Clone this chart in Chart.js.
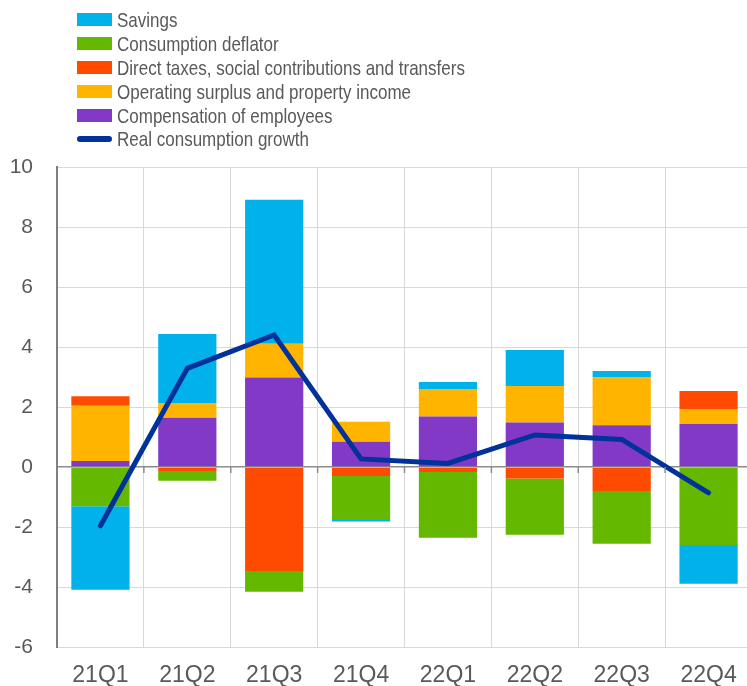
<!DOCTYPE html>
<html lang="en">
<head>
  <meta charset="UTF-8" />
  <title>Real consumption growth decomposition</title>
  <script src="https://cdn.jsdelivr.net/npm/chart.js"></script>
  <style>
    body {
      margin: 0;
      background: #fff;
      overflow: hidden;
      font-family: 'Liberation Sans', Arial, sans-serif;
    }
    .wrap {
      position: relative;
      width: 752px;
      height: 686px;
    }
    #legend {
      position: absolute;
      left: 77px;
      top: 8px;
      list-style: none;
      margin: 0;
      padding: 0;
    }
    #legend li {
      height: 23.9px;
      display: flex;
      align-items: center;
      color: #595959;
      font-size: 21px;
      white-space: nowrap;
    }
    #legend .txt {
      display: inline-block;
      transform: scaleX(0.81);
      transform-origin: left center;
    }
    #legend .box {
      width: 35px;
      height: 13px;
      margin-right: 5px;
      flex: none;
    }
    #legend .ln {
      width: 35px;
      height: 6px;
      border-radius: 3px;
      margin-right: 5px;
      flex: none;
    }
  </style>
</head>
<body>
  <div class="wrap">
    <canvas id="chart" width="752" height="686"></canvas>
    <ul id="legend"></ul>
  </div>

  <script>
    const quarters = ['21Q1', '21Q2', '21Q3', '21Q4', '22Q1', '22Q2', '22Q3', '22Q4'];

    const compensation = [0.2, 1.64, 2.98, 0.84, 1.68, 1.48, 1.39, 1.43];
    const operating    = [1.84, 0.49, 1.13, 0.67, 0.92, 1.22, 1.59, 0.5];
    const directTaxes  = [0.32, -0.13, -3.47, -0.3, -0.17, -0.38, -0.8, 0.6];
    const deflator     = [-1.31, -0.33, -0.69, -1.47, -2.19, -1.88, -1.76, -2.6];
    const savings      = [-2.78, 2.3, 4.8, -0.05, 0.23, 1.2, 0.22, -1.29];
    const realGrowth   = [-1.96, 3.29, 4.4, 0.27, 0.12, 1.07, 0.92, -0.86];

    const yTicks = [-6, -4, -2, 0, 2, 4, 6, 8, 10];

    const tickGrey = '#595959';

    function bar(label, data, color) {
      return { type: 'bar', label, data, backgroundColor: color, stack: 'bars', order: 1 };
    }

    const datasets = [
      bar('Compensation of employees', compensation, '#8139c6'),
      bar('Operating surplus and property income', operating, '#ffb400'),
      bar('Direct taxes, social contributions and transfers', directTaxes, '#ff4b00'),
      bar('Consumption deflator', deflator, '#65b800'),
      bar('Savings', savings, '#00b1ea'),
      {
        type: 'line',
        label: 'Real consumption growth',
        data: realGrowth,
        borderColor: '#003299',
        backgroundColor: '#003299',
        borderWidth: 5,
        borderCapStyle: 'round',
        borderJoinStyle: 'miter',
        pointRadius: 0,
        tension: 0,
        stack: 'line',
        order: 0
      }
    ];

    // small tick marks hanging from the zero line at each category boundary
    const zeroTicks = {
      id: 'zeroTicks',
      afterDatasetsDraw(c) {
        const x = c.scales.x, y = c.scales.y;
        const y0 = y.getPixelForValue(0);
        const g = c.ctx;
        g.save();
        g.strokeStyle = '#8c8c8c';
        g.lineWidth = 1.5;
        for (let i = 1; i < quarters.length; i++) {
          const px = (x.getPixelForTick(i - 1) + x.getPixelForTick(i)) / 2;
          g.beginPath();
          g.moveTo(px, y0);
          g.lineTo(px, y0 + 6);
          g.stroke();
        }
        g.restore();
      }
    };

    const ctx = document.getElementById('chart').getContext('2d');
    const chart = new Chart(ctx, {
      data: { labels: quarters, datasets },
      plugins: [zeroTicks],
      options: {
        responsive: false,
        animation: false,
        layout: { padding: { top: 167, right: 0, bottom: 0, left: 0 } },
        datasets: {
          bar: { categoryPercentage: 1, barPercentage: 0.67 }
        },
        plugins: {
          legend: { display: false },
          tooltip: { enabled: false }
        },
        scales: {
          x: {
            stacked: true,
            grid: { color: '#d9d9d9', lineWidth: 1, offset: true, drawTicks: false },
            border: { color: '#d9d9d9', width: 1 },
            ticks: { color: tickGrey, font: { family: 'Liberation Sans', size: 23 }, padding: 15 },
            afterFit: s => { s.height = 39; }
          },
          y: {
            stacked: true,
            min: -6,
            max: 10,
            afterBuildTicks: s => { s.ticks = yTicks.map(v => ({ value: v })); },
            grid: {
              color: c => c.tick && c.tick.value === 0 ? '#8c8c8c' : '#d9d9d9',
              lineWidth: c => c.tick && c.tick.value === 0 ? 1.5 : 1,
              drawTicks: false
            },
            border: { color: '#7f7f7f', width: 2 },
            ticks: { color: tickGrey, font: { family: 'Liberation Sans', size: 21 }, padding: 24 },
            afterFit: s => { s.width = 57; }
          }
        }
      }
    });

    // legend in the reference order: bars top-down reversed, then the line
    const legend = document.getElementById('legend');
    const legendOrder = [4, 3, 2, 1, 0, 5];
    legendOrder.forEach(i => {
      const ds = chart.data.datasets[i];
      const li = document.createElement('li');
      const sw = document.createElement('span');
      sw.className = ds.type === 'line' ? 'ln' : 'box';
      sw.style.background = ds.type === 'line' ? ds.borderColor : ds.backgroundColor;
      const txt = document.createElement('span');
      txt.className = 'txt';
      txt.textContent = ds.label;
      li.appendChild(sw);
      li.appendChild(txt);
      legend.appendChild(li);
    });
  </script>
</body>
</html>
